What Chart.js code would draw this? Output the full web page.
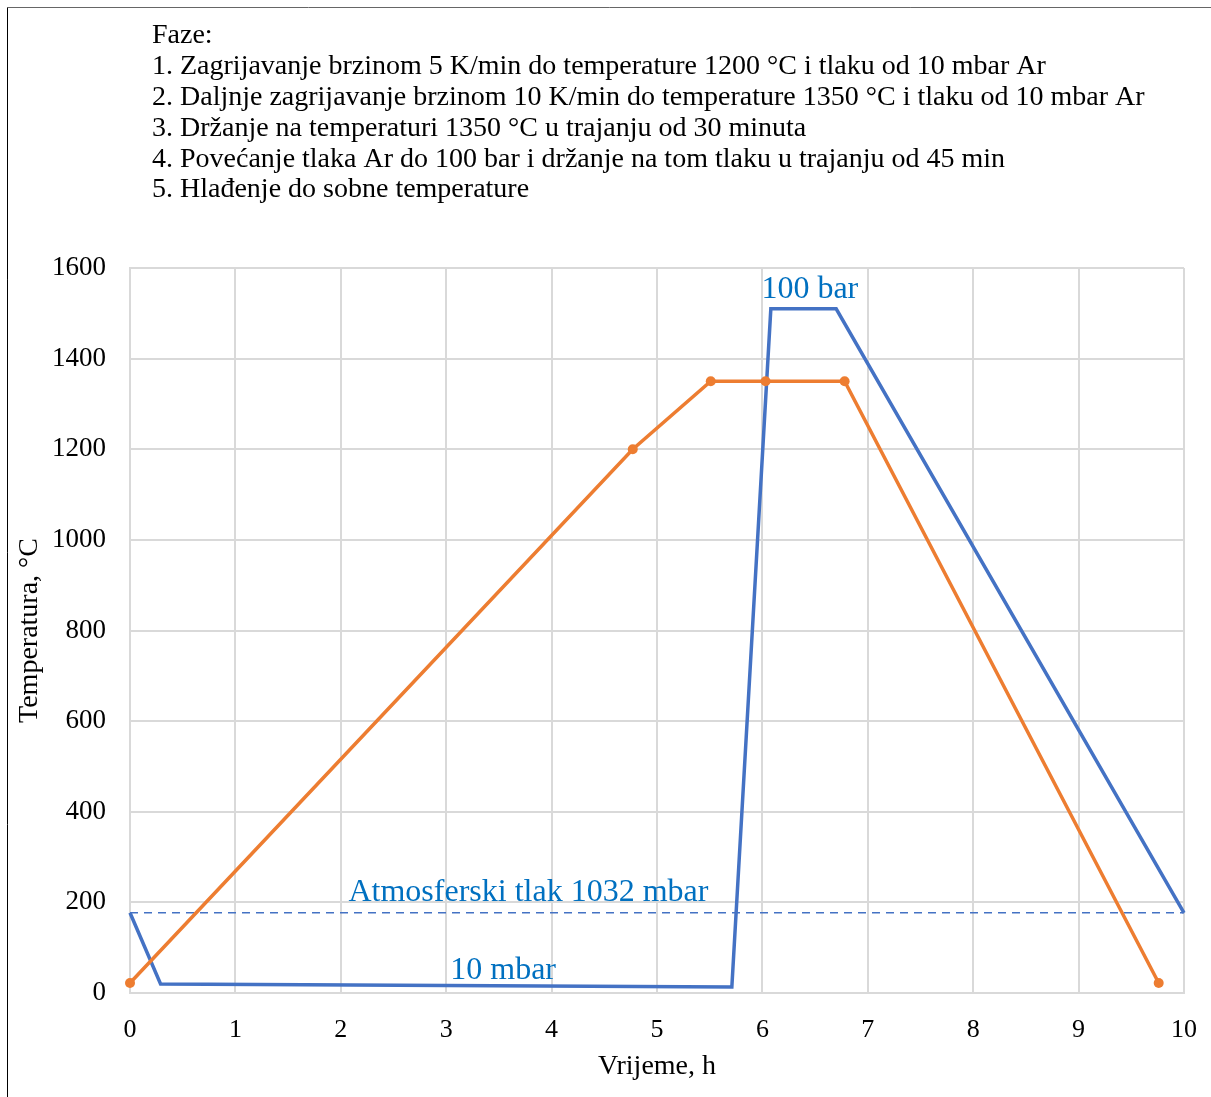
<!DOCTYPE html>
<html>
<head>
<meta charset="utf-8">
<script src="https://cdn.jsdelivr.net/npm/chart.js@4/dist/chart.umd.min.js"></script>
<style>
  html, body { margin: 0; padding: 0; background: #fff; }
  #wrap { width: 1211px; height: 1097px; }
</style>
</head>
<body>
<div id="wrap"><canvas id="chart" width="1211" height="1097"></canvas></div>
<script>
// phase description lines
const phaseLines = [
    "Faze:",
    "1. Zagrijavanje brzinom 5 K/min do temperature 1200 \u00B0C i tlaku od 10 mbar Ar",
    "2. Daljnje zagrijavanje brzinom 10 K/min do temperature 1350 \u00B0C i tlaku od 10 mbar Ar",
    "3. Dr\u017Eanje na temperaturi 1350 \u00B0C u trajanju od 30 minuta",
    "4. Pove\u0107anje tlaka Ar do 100 bar i dr\u017Eanje na tom tlaku u trajanju od 45 min",
    "5. Hla\u0111enje do sobne temperature"
];

// temperature curve (h, °C)
const tempTime = [0, 4.77, 5.51, 6.03, 6.78, 9.76];
const tempValue = [22, 1200, 1350, 1350, 1350, 22];

// pressure curve (schematic, on the temperature scale)
const presTime = [0, 0.29, 5.71, 6.08, 6.70, 10];
const presValue = [177, 20, 13, 1510, 1510, 177];

// atmospheric pressure reference line
const atmTime = [0, 10];
const atmValue = [177, 177];

const yTicks = [0, 200, 400, 600, 800, 1000, 1200, 1400, 1600];
const xTicks = [0, 1, 2, 3, 4, 5, 6, 7, 8, 9, 10];

const notes = [
    { text: "100 bar", x: 6.45, y: 1552 },
    { text: "Atmosferski tlak 1032 mbar", x: 3.78, y: 222 },
    { text: "10 mbar", x: 3.54, y: 49 }
];

const FONT = "'Liberation Serif', 'Times New Roman', serif";
const ORANGE = "#ED7D31";
const BLUE = "#4472C4";

const toXY = (xs, ys) => xs.map((x, i) => ({ x: x, y: ys[i] }));

const extras = {
    id: "extras",
    beforeDraw(chart) {
        const ctx = chart.ctx;
        ctx.save();
        ctx.fillStyle = "#fff";
        ctx.fillRect(0, 0, chart.width, chart.height);
        // frame
        ctx.strokeStyle = "#666";
        ctx.lineWidth = 1;
        ctx.beginPath();
        ctx.moveTo(7.5, 7.5);
        ctx.lineTo(chart.width, 7.5);
        ctx.stroke();
        ctx.strokeStyle = "#000";
        ctx.beginPath();
        ctx.moveTo(7.5, 7.5);
        ctx.lineTo(7.5, chart.height);
        ctx.stroke();
        // phase text
        ctx.fillStyle = "#000";
        ctx.font = "28px " + FONT;
        ctx.textAlign = "left";
        ctx.textBaseline = "middle";
        phaseLines.forEach((line, i) => {
            ctx.fillText(line, 152, 36 + i * 30.8);
        });
        ctx.restore();
    },
    afterDatasetsDraw(chart) {
        const ctx = chart.ctx;
        const xs = chart.scales.x, ys = chart.scales.y;
        ctx.save();
        ctx.fillStyle = "#0070C0";
        ctx.font = "32px " + FONT;
        ctx.textAlign = "center";
        ctx.textBaseline = "middle";
        notes.forEach(n => {
            ctx.fillText(n.text, xs.getPixelForValue(n.x), ys.getPixelForValue(n.y));
        });
        ctx.restore();
    }
};

new Chart(document.getElementById("chart"), {
    type: "line",
    data: {
        datasets: [
            {
                label: "Temperatura",
                data: toXY(tempTime, tempValue),
                borderColor: ORANGE,
                backgroundColor: ORANGE,
                borderWidth: 3.5,
                pointRadius: 5,
                pointHoverRadius: 5,
                pointBorderWidth: 0,
                tension: 0,
                clip: false
            },
            {
                label: "Tlak",
                data: toXY(presTime, presValue),
                borderColor: BLUE,
                borderWidth: 3.5,
                pointRadius: 0,
                tension: 0,
                clip: false
            },
            {
                label: "Atmosferski tlak",
                data: toXY(atmTime, atmValue),
                borderColor: BLUE,
                borderWidth: 1.6,
                borderDash: [8, 6],
                pointRadius: 0,
                tension: 0
            }
        ]
    },
    options: {
        responsive: false,
        animation: false,
        events: [],
        layout: { padding: { left: 0, top: 268, right: 27, bottom: 0 } },
        plugins: {
            legend: { display: false },
            tooltip: { enabled: false }
        },
        scales: {
            x: {
                type: "linear",
                min: 0,
                max: 10,
                afterBuildTicks: s => { s.ticks = xTicks.map(v => ({ value: v })); },
                afterFit: s => {
                    s.height = 104;
                    s.paddingLeft = 0;
                    s.paddingRight = 0;
                },
                grid: { color: "#D9D9D9", lineWidth: 2, drawTicks: false },
                border: { color: "#D9D9D9", width: 2 },
                ticks: { color: "#000", font: { family: FONT, size: 26 }, padding: 22 },
                title: {
                    display: true,
                    text: "Vrijeme, h",
                    color: "#000",
                    font: { family: FONT, size: 28 },
                    padding: { top: 0, bottom: 14 }
                }
            },
            y: {
                type: "linear",
                min: 0,
                max: 1600,
                afterBuildTicks: s => { s.ticks = yTicks.map(v => ({ value: v })); },
                afterFit: s => { s.width = 130; },
                grid: { color: "#D9D9D9", lineWidth: 2, drawTicks: false },
                border: { color: "#D9D9D9", width: 2 },
                ticks: {
                    color: "#000",
                    font: { family: FONT, size: 27 },
                    padding: 24,
                    callback: v => String(v)
                },
                title: {
                    display: true,
                    text: "Temperatura, \u00B0C",
                    color: "#000",
                    font: { family: FONT, size: 28 },
                    padding: { top: 13, bottom: 0 }
                }
            }
        }
    },
    plugins: [extras]
});
</script>
</body>
</html>
